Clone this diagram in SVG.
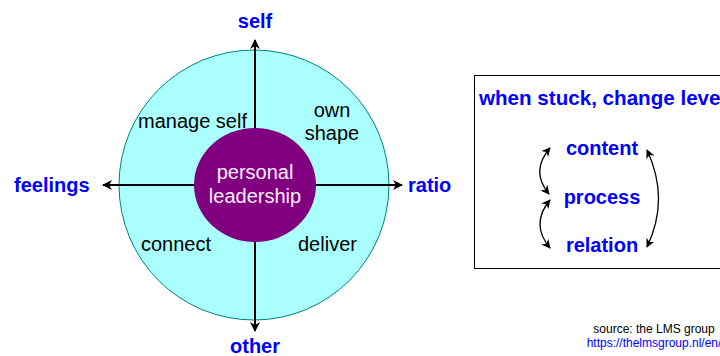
<svg xmlns="http://www.w3.org/2000/svg" width="720" height="356" viewBox="0 0 720 356">
<defs>
<marker id="ah" viewBox="0 0 10 10" refX="9" refY="5" markerWidth="5" markerHeight="5" orient="auto-start-reverse" markerUnits="strokeWidth">
<path d="M0,0 L10,5 L0,10 L3,5 Z" fill="#000"/>
</marker>
<marker id="ah2" viewBox="0 0 10 10" refX="9" refY="5" markerWidth="7" markerHeight="7" orient="auto-start-reverse" markerUnits="strokeWidth">
<path d="M0,0 L10,5 L0,10 L3,5 Z" fill="#000"/>
</marker>
</defs>
<style>
text{font-family:"Liberation Sans",Arial,sans-serif}
.lbl{font-size:20px;fill:#000}
.ax{font-size:20px;font-weight:bold;fill:#0000ff}
.ctr{font-size:20px;fill:#ffeeff;text-anchor:middle}
.axis{stroke:#000;stroke-width:2;fill:none;marker-end:url(#ah)}
.cv{stroke:#000;stroke-width:1.3;fill:none;marker-start:url(#ah2);marker-end:url(#ah2)}
</style>
<rect width="720" height="356" fill="#fff"/>
<g id="outer">
<circle cx="254" cy="185" r="135" fill="#aaffff" stroke="#008080" stroke-width="1"/>
</g>
<g id="levels">
<rect x="474.5" y="75.5" width="260" height="193" fill="#fff" stroke="#000" stroke-width="1"/>
<text class="ax" x="479" y="105" style="font-size:20.6px">when stuck, change level</text>
<text class="ax" x="602" y="155" text-anchor="middle">content</text>
<text class="ax" x="602" y="204" text-anchor="middle">process</text>
<text class="ax" x="602" y="252" text-anchor="middle">relation</text>
</g>
<g id="connectors">
<line class="axis" x1="255" y1="185" x2="255" y2="40"/>
<line class="axis" x1="255" y1="185" x2="255" y2="331"/>
<line class="axis" x1="255" y1="185" x2="103" y2="185"/>
<line class="axis" x1="255" y1="185" x2="402" y2="185"/>
<path class="cv" d="M550,148 Q530,171 549,194"/>
<path class="cv" d="M550,200 Q530,224 550,248"/>
<path class="cv" d="M647,150 Q670,199 647,247"/>
</g>
<g id="center">
<ellipse cx="255" cy="185" rx="61" ry="57" fill="#800080"/>
<text class="ctr" x="255" y="179">personal</text>
<text class="ctr" x="255" y="203">leadership</text>
</g>
<g id="quadrants">
<text class="lbl" x="138" y="128">manage self</text>
<text class="lbl" x="332" y="117" text-anchor="middle">own</text>
<text class="lbl" x="332" y="140" text-anchor="middle">shape</text>
<text class="lbl" x="141" y="251">connect</text>
<text class="lbl" x="298" y="251">deliver</text>
</g>
<g id="axes-labels">
<text class="ax" x="255" y="28" text-anchor="middle">self</text>
<text class="ax" x="255" y="353" text-anchor="middle">other</text>
<text class="ax" x="14" y="192">feelings</text>
<text class="ax" x="408" y="192">ratio</text>
</g>
<g id="source">
<text x="654" y="333" text-anchor="middle" font-size="12" fill="#000">source: the LMS group</text>
<text x="654" y="347" text-anchor="middle" font-size="12" fill="#0000ff">https://thelmsgroup.nl/en/</text>
</g>
</svg>
